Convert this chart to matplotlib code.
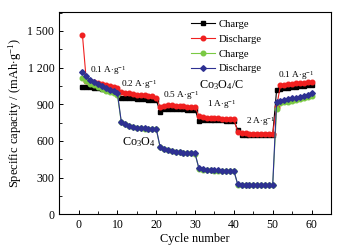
import matplotlib
matplotlib.use("Agg")
import matplotlib.pyplot as plt
from matplotlib.ticker import MultipleLocator, FuncFormatter

plt.rcParams['font.family'] = ['Liberation Serif', 'DejaVu Serif']
plt.rcParams['mathtext.fontset'] = 'custom'
plt.rcParams['mathtext.rm'] = 'Liberation Serif'
plt.rcParams['mathtext.it'] = 'Liberation Serif:italic'

cycles = list(range(1, 61))

# Co3O4/C charge (black squares)
cc_charge = [1040, 1045, 1040, 1035, 1030, 1025, 1020, 1015, 1010, 1005,
             950, 955, 950, 948, 945, 942, 940, 938, 935, 935,
             840, 862, 865, 865, 862, 860, 858, 856, 855, 855,
             765, 772, 772, 770, 770, 768, 768, 766, 766, 765,
             690, 652, 650, 650, 650, 650, 650, 650, 650, 650,
             1016, 1025, 1030, 1035, 1040, 1045, 1048, 1052, 1055, 1058]
# Co3O4/C discharge (red circles)
cc_discharge = [1465, 1090, 1085, 1080, 1075, 1068, 1060, 1052, 1045, 1035,
                1000, 995, 990, 985, 980, 975, 972, 968, 965, 955,
                880, 888, 894, 892, 888, 885, 883, 882, 880, 878,
                805, 795, 790, 788, 786, 784, 782, 780, 778, 778,
                672, 666, 662, 660, 660, 660, 660, 660, 660, 660,
                880, 1057, 1060, 1064, 1068, 1072, 1075, 1078, 1082, 1085]
# Co3O4 charge (green circles)
c_charge = [1115, 1090, 1070, 1055, 1040, 1025, 1010, 1000, 990, 975,
            755, 738, 723, 713, 708, 703, 702, 698, 698, 698,
            548, 533, 523, 516, 510, 506, 503, 500, 498, 496,
            373, 366, 363, 360, 358, 358, 356, 356, 355, 355,
            243, 240, 238, 238, 238, 238, 238, 238, 238, 238,
            860, 908, 915, 922, 930, 938, 945, 952, 960, 968]
# Co3O4 discharge (blue diamonds)
c_discharge = [1165, 1130, 1100, 1080, 1065, 1050, 1035, 1020, 1005, 992,
               758, 740, 725, 715, 710, 705, 704, 700, 700, 700,
               552, 536, 525, 518, 512, 508, 505, 502, 500, 498,
               376, 368, 365, 362, 360, 360, 358, 358, 357, 357,
               245, 242, 240, 240, 240, 240, 240, 240, 240, 240,
               921, 925, 932, 940, 948, 955, 962, 970, 980, 989]

legend_labels = ["Charge", "Discharge", "Charge", "Discharge"]

rate_labels = [r"0.1 A$\cdot$g$^{-1}$", r"0.2 A$\cdot$g$^{-1}$", r"0.5 A$\cdot$g$^{-1}$",
               r"1 A$\cdot$g$^{-1}$", r"2 A$\cdot$g$^{-1}$", r"0.1 A$\cdot$g$^{-1}$"]
rate_x = [3.0, 11.0, 21.7, 33.1, 43.0, 51.3]
rate_y = [1180, 1060, 970, 902, 757, 1139]

fig = plt.figure(figsize=(3.48, 2.49), dpi=100)
ax = fig.add_axes([0.170, 0.139, 0.781, 0.813])

ms = 3.3
ax.plot(cycles, cc_charge, '-s', color='#000000', ms=ms, lw=0.8, label=legend_labels[0])
ax.plot(cycles, cc_discharge, '-o', color='#f02020', ms=ms, lw=0.8, label=legend_labels[1])
ax.plot(cycles, c_charge, '-o', color='#7ac943', ms=ms, lw=0.8, label=legend_labels[2])
ax.plot(cycles, c_discharge, '-D', color='#2e3192', ms=ms - 0.4, lw=0.8, label=legend_labels[3])

for t, x, y in zip(rate_labels, rate_x, rate_y):
    ax.text(x, y, t, fontsize=6.7, ha='left', va='center')

ax.text(30.9, 1057, r"Co$_3$O$_4$/C", fontsize=8.7, ha='left', va='center')
ax.text(11.2, 589, r"Co$_3$O$_4$", fontsize=8.7, ha='left', va='center')

ax.set_xlim(-5, 65)
ax.set_ylim(0, 1655)
ax.xaxis.set_major_locator(MultipleLocator(10))
ax.xaxis.set_minor_locator(MultipleLocator(5))
ax.yaxis.set_major_locator(MultipleLocator(300))
ax.yaxis.set_minor_locator(MultipleLocator(150))
ax.yaxis.set_major_formatter(FuncFormatter(
    lambda v, p: f"{int(v):,}".replace(",", " ")))
ax.tick_params(which='both', direction='in', labelsize=8.5, top=False, right=False)
ax.tick_params(which='major', length=3, width=0.7)
ax.tick_params(which='minor', length=2, width=0.6)
for s in ax.spines.values():
    s.set_linewidth(0.8)

ax.set_xlabel("Cycle number", fontsize=8.8, labelpad=1.5)
ax.set_ylabel(r"Specific capacity / (mAh$\cdot$g$^{-1}$)", fontsize=9, labelpad=2.5)

ax.legend(loc='upper left', bbox_to_anchor=(0.46, 0.995), frameon=False, fontsize=7.7,
          handlelength=2.3, handletextpad=0.3, labelspacing=0.5, borderaxespad=0.2)

fig.savefig("out.png", dpi=100)
